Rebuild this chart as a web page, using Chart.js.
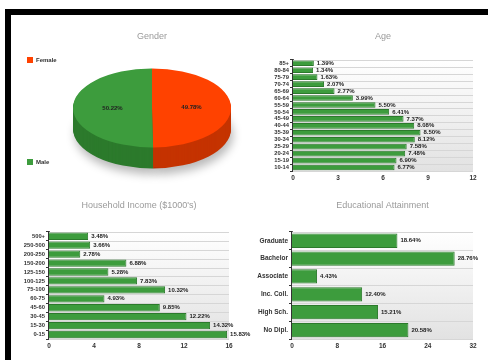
<!DOCTYPE html>
<html>
<head>
<meta charset="utf-8">
<script src="https://cdn.jsdelivr.net/npm/chart.js@4/dist/chart.umd.min.js"></script>
<style>
  html, body { margin: 0; padding: 0; background: #fff; }
  body { width: 488px; height: 360px; position: relative; overflow: hidden; }
  #frame { position: absolute; left: 5px; top: 9px; right: -10px; bottom: -10px;
           border-top: 6px solid #000; border-left: 6px solid #000; }
  .box { position: absolute; }
</style>
</head>
<body>
<div id="frame"></div>
<div class="box" style="left:20px;top:20px;width:244px;height:182px"><canvas id="genderChart"></canvas></div>
<div class="box" style="left:262px;top:20px;width:226px;height:165px"><canvas id="ageChart"></canvas></div>
<div class="box" style="left:20px;top:190px;width:244px;height:163px"><canvas id="incomeChart"></canvas></div>
<div class="box" style="left:250px;top:190px;width:238px;height:163px"><canvas id="eduChart"></canvas></div>
<script>
// data
const genderLabels = ['Female', 'Male'];
const genderValues = [49.78, 50.22];

const ageLabels = ['85+', '80-84', '75-79', '70-74', '65-69', '60-64', '55-59', '50-54',
                   '45-49', '40-44', '35-39', '30-34', '25-29', '20-24', '15-19', '10-14'];
const ageValues = [1.39, 1.34, 1.63, 2.07, 2.77, 3.99, 5.50, 6.41,
                   7.37, 8.08, 8.50, 8.12, 7.58, 7.48, 6.90, 6.77];

const incomeLabels = ['500+', '250-500', '200-250', '150-200', '125-150', '100-125',
                      '75-100', '60-75', '45-60', '30-45', '15-30', '0-15'];
const incomeValues = [3.48, 3.66, 2.78, 6.88, 5.28, 7.83, 10.32, 4.93, 9.85, 12.22, 14.32, 15.83];

const eduLabels = ['Graduate', 'Bachelor', 'Associate', 'Inc. Coll.', 'High Sch.', 'No Dipl.'];
const eduValues = [18.64, 28.76, 4.43, 12.40, 15.21, 20.58];

const FONT = "'Liberation Sans', Arial, sans-serif";
Chart.defaults.font.family = FONT;
Chart.defaults.animation = false;

// striped grey background behind the bars
const barBackground = {
  id: 'barBackground',
  beforeDatasetsDraw(chart) {
    const { ctx, chartArea: a } = chart;
    const yScale = chart.scales.y;
    const g = ctx.createLinearGradient(0, a.top, 0, a.bottom);
    g.addColorStop(0, '#ffffff');
    g.addColorStop(1, '#e2e2e2');
    ctx.save();
    ctx.fillStyle = g;
    ctx.fillRect(a.left, a.top, a.right - a.left, a.bottom - a.top);
    const n = chart.data.labels.length;
    const half = (yScale.getPixelForValue(1) - yScale.getPixelForValue(0)) / 2;
    ctx.strokeStyle = '#d6d6d6';
    ctx.lineWidth = 1;
    for (let i = 0; i <= n; i++) {
      const y = Math.round(yScale.getPixelForValue(i) - half) + 0.5;
      ctx.beginPath();
      ctx.moveTo(a.left, y);
      ctx.lineTo(a.right, y);
      ctx.stroke();
    }
    ctx.restore();
  }
};

// "12.34%" next to each bar
const barValues = {
  id: 'barValues',
  afterDatasetsDraw(chart) {
    const { ctx } = chart;
    const vals = chart.data.datasets[0].data;
    ctx.save();
    ctx.font = 'bold 6px ' + FONT;
    ctx.fillStyle = '#222';
    ctx.textBaseline = 'middle';
    chart.getDatasetMeta(0).data.forEach((bar, i) => {
      ctx.fillText(vals[i].toFixed(2) + '%', bar.x + 3, bar.y);
    });
    ctx.restore();
  }
};

function makeBarChart(id, title, labels, values, max, step, yWidth, padRight, catPct, titlePad, labelSize) {
  return new Chart(document.getElementById(id), {
    type: 'bar',
    data: {
      labels: labels,
      datasets: [{
        data: values,
        backgroundColor: '#3d9c3d',
        borderColor: '#2c7a2c',
        borderWidth: 1,
        barPercentage: 1,
        categoryPercentage: catPct
      }]
    },
    options: {
      indexAxis: 'y',
      responsive: true,
      maintainAspectRatio: false,
      layout: { padding: { left: 0, right: padRight, top: 0, bottom: 0 } },
      scales: {
        x: {
          min: 0, max: max,
          grid: { display: false, drawTicks: false, tickLength: 0 },
          border: { display: false },
          ticks: { stepSize: step, padding: 3, color: '#333', font: { size: 6.5, weight: 'bold' } },
          afterFit(scale) { scale.height = 14; }
        },
        y: {
          grid: { drawOnChartArea: false, tickLength: 3, color: '#333' },
          border: { display: true, color: '#333', width: 2 },
          ticks: { padding: 1, color: '#333', font: { size: labelSize, weight: 'bold' }, autoSkip: false },
          afterFit(scale) { scale.width = yWidth; }
        }
      },
      plugins: {
        legend: { display: false },
        tooltip: { enabled: false },
        title: {
          display: true, text: title, fullSize: false, color: '#9a9a9a',
          font: { size: 9, weight: 'normal' },
          padding: titlePad
        }
      }
    },
    plugins: [barBackground, barValues]
  });
}

// fake 3D pie: squash the pie and draw a darker side underneath
const pie3d = {
  id: 'pie3d',
  beforeDatasetsDraw(chart, args, opts) {
    const { ctx } = chart;
    const arcs = chart.getDatasetMeta(0).data;
    const cx = arcs[0].x, cy = arcs[0].y;
    const ty = cy - opts.shiftY;
    ctx.save();
    for (let d = opts.depth; d >= 1; d--) {
      ctx.save();
      if (d === opts.depth) {
        ctx.shadowColor = 'rgba(0,0,0,0.28)';
        ctx.shadowBlur = 10;
        ctx.shadowOffsetY = 6;
        ctx.shadowOffsetX = 2;
      }
      ctx.translate(cx, ty + d);
      ctx.scale(1, opts.tilt);
      arcs.forEach((a, i) => {
        ctx.fillStyle = opts.sideColors[i];
        ctx.beginPath();
        ctx.moveTo(0, 0);
        ctx.arc(0, 0, a.outerRadius, a.startAngle, a.endAngle);
        ctx.closePath();
        ctx.fill();
      });
      ctx.restore();
    }
    ctx.translate(cx, ty);
    ctx.scale(1, opts.tilt);
    ctx.translate(-cx, -cy);
  },
  afterDatasetsDraw(chart, args, opts) {
    const { ctx } = chart;
    ctx.restore();
    const arcs = chart.getDatasetMeta(0).data;
    const vals = chart.data.datasets[0].data;
    const cx = arcs[0].x, ty = arcs[0].y - opts.shiftY;
    ctx.save();
    ctx.font = 'bold 6px ' + FONT;
    ctx.fillStyle = '#222';
    ctx.textAlign = 'center';
    ctx.textBaseline = 'middle';
    arcs.forEach((a, i) => {
      const mid = (a.startAngle + a.endAngle) / 2;
      const r = a.outerRadius * 0.5;
      ctx.fillText(vals[i].toFixed(2) + '%', cx + Math.cos(mid) * r, ty + Math.sin(mid) * r * opts.tilt);
    });
    // legend, spread down the left side
    ctx.textAlign = 'left';
    ctx.font = 'bold 6px ' + FONT;
    const colors = chart.data.datasets[0].backgroundColor;
    chart.data.labels.forEach((lab, i) => {
      const y = opts.legendY[i];
      ctx.fillStyle = colors[i];
      ctx.fillRect(7, y - 3, 6, 6);
      ctx.fillStyle = '#333';
      ctx.fillText(lab, 16, y);
    });
    ctx.restore();
  }
};

new Chart(document.getElementById('genderChart'), {
  type: 'pie',
  data: {
    labels: genderLabels,
    datasets: [{
      data: genderValues,
      backgroundColor: ['#ff4200', '#3d9c3d'],
      borderWidth: 0
    }]
  },
  options: {
    responsive: true,
    maintainAspectRatio: false,
    layout: { padding: { left: 53, right: 33, top: 0, bottom: 0 } },
    plugins: {
      legend: { display: false },
      tooltip: { enabled: false },
      title: {
        display: true, text: 'Gender', color: '#9a9a9a',
        font: { size: 9, weight: 'normal' },
        padding: { top: 11, bottom: 2 }
      },
      pie3d: { tilt: 0.5, depth: 21, shiftY: 15, sideColors: ['#c53300', '#2c7a2c'], legendY: [40, 142] }
    }
  },
  plugins: [pie3d]
});

makeBarChart('ageChart', 'Age', ageLabels, ageValues, 12, 3, 31, 15, 0.82, { top: 11, bottom: 18 }, 5.8);
makeBarChart('incomeChart', "Household Income ($1000's)", incomeLabels, incomeValues, 16, 4, 29, 35, 0.82, { top: 10, bottom: 21 }, 5.8);
makeBarChart('eduChart', 'Educational Attainment', eduLabels, eduValues, 32, 8, 42, 15, 0.8, { top: 10, bottom: 21 }, 6.5);
</script>
</body>
</html>
